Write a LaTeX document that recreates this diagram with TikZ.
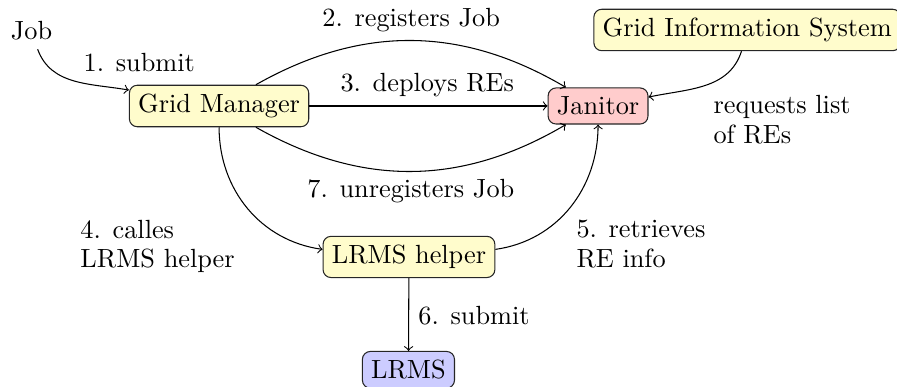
\documentclass[tikz,border=0pt]{standalone}
\begin{document}
\begin{tikzpicture}[x=1pt,y=1pt,
  box/.style={draw=black!85, rounded corners=3pt, inner sep=3.333pt},
  ybox/.style={box, fill=yellow!20},
  lbl/.style={inner sep=0pt, align=left, anchor=west},
  conn/.style={->}]
\useasboundingbox (0,0) rectangle (341.06,-146.77);
% nodes
\node (job) at (12,-11.6) {Job};
\node[ybox] (gm) at (83.3,-40.3) {Grid Manager};
\node[box, fill=red!20] (jan) at (227.4,-40.3) {Janitor};
\node[ybox] (gis) at (284.1,-11.4) {Grid Information System};
\node[ybox] (lh) at (155.5,-97.7) {LRMS helper};
\node[box, fill=blue!20] (lrms) at (155.3,-140.6) {LRMS};
% labels
\node[lbl] (l1) at (31.6,-23.9) {1. submit};
\node[lbl] (l2) at (122.4,-7.6) {2. registers Job};
\node[lbl] (l3) at (129.3,-32.4) {3. deploys REs};
\node[lbl] (l7) at (116.7,-72.8) {7. unregisters Job};
\node[lbl] (l4) at (30.4,-93.7) {4. calles\\[-0.6pt]LRMS helper};
\node[lbl] (l5) at (219,-92.7) {5. retrieves\\[-0.6pt]RE info};
\node[lbl] (lr) at (271.1,-45.6) {requests list\\[-0.6pt]of REs};
\node[lbl] (l6) at (158.9,-120.1) {6. submit};
% connectors
\draw[conn] (job.-72) to[out=-70,in=170] (gm.170);
\draw[conn] (gm) to[bend left=30] (jan);
\draw[conn] (gm) -- (jan);
\draw[conn] (gm) to[bend right=30] (jan);
\draw[conn] (gm.south) to[out=-90,in=172] (lh.175);
\draw[conn] (lh.5) to[out=8,in=-90] (jan.south);
\draw[conn] (gis.-105) to[out=-108,in=12] (jan.10);
\draw[conn] (lh) -- (lrms);
\end{tikzpicture}
\end{document}
